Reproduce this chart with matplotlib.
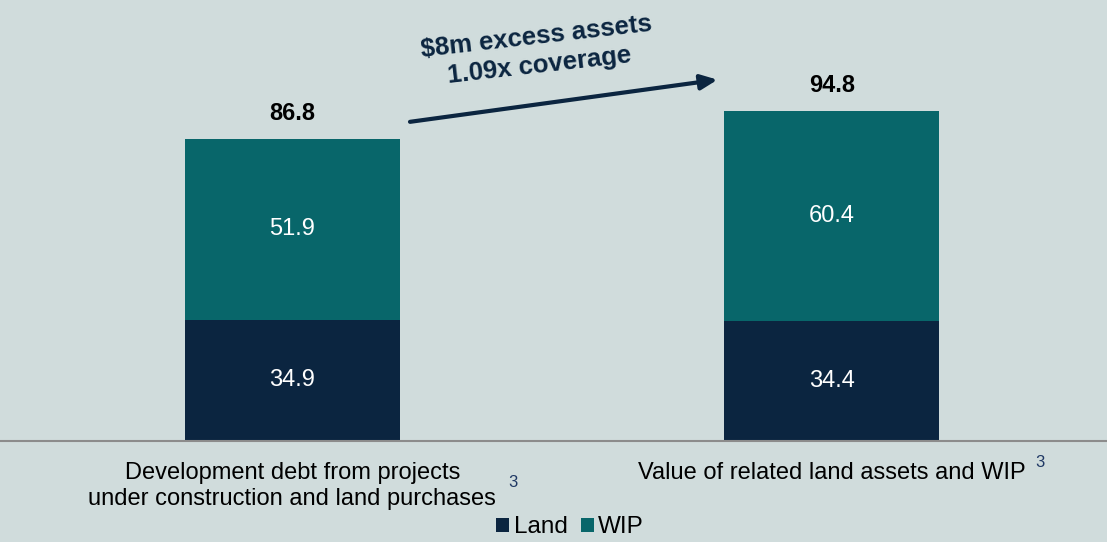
import matplotlib.pyplot as plt

categories = ['Development debt from projects\nunder construction and land purchases',
              'Value of related land assets and WIP']
land = [34.9, 34.4]
wip = [51.9, 60.4]
totals = [86.8, 94.8]
series_names = ['Land', 'WIP']
note = '\\$8m excess assets\n1.09x coverage'

plt.rcParams['font.family'] = ['Liberation Sans', 'DejaVu Sans']

bg = '#D0DCDC'
land_col = '#0B2540'
wip_col = '#08666A'

fig = plt.figure(figsize=(11.07, 5.42), dpi=100, facecolor=bg)
ax = fig.add_axes([0, 0.1863, 1, 0.8137], facecolor=bg)

x = [0, 1]
width = 0.3985
b1 = ax.bar(x, land, width, color=land_col, label=series_names[0])
b2 = ax.bar(x, wip, width, bottom=land, color=wip_col, label=series_names[1])

for i in x:
    ax.text(i, land[i] / 2, f'{land[i]:.1f}', ha='center', va='center',
            color='white', fontsize=17)
    ax.text(i, land[i] + wip[i] / 2, f'{wip[i]:.1f}', ha='center', va='center',
            color='white', fontsize=17)
    ax.text(i, totals[i] + 7.3, f'{totals[i]:.1f}', ha='center', va='center',
            color='black', fontsize=17, fontweight='bold')

ax.set_xlim(-0.542, 1.51)
ax.set_ylim(0, 126.7)
for s in ['top', 'right', 'left']:
    ax.spines[s].set_visible(False)
ax.spines['bottom'].set_color('#8C8C8C')
ax.spines['bottom'].set_linewidth(1.5)
ax.set_yticks([])
ax.set_xticks(x)
ax.set_xticklabels(categories, fontsize=17, color='black', linespacing=1.25)
ax.tick_params(axis='x', length=0, pad=15)

# superscript footnote markers
ax.text(0.409, -12.0, '3', fontsize=12, color='#1F3864', ha='center', va='center', clip_on=False)
ax.text(1.385, -6.2, '3', fontsize=12, color='#1F3864', ha='center', va='center', clip_on=False)

# coverage arrow
ax.annotate('', xy=(0.788, 103.8), xytext=(0.218, 91.7),
            arrowprops=dict(arrowstyle='-|>,head_length=1.0,head_width=0.45',
                            color=land_col, lw=3, shrinkA=0, shrinkB=0))
ax.text(0.455, 112.0, note, ha='center', va='center', rotation=6.5,
        rotation_mode='anchor', fontsize=18.5, fontweight='bold', color=land_col,
        linespacing=1.3)

fig.legend(handles=[b1, b2], labels=series_names, loc='center',
           bbox_to_anchor=(0.515, 0.027), ncol=2, frameon=False, fontsize=17.5,
           handlelength=0.54, handleheight=0.54, handletextpad=0.17, columnspacing=0.55)

fig.savefig('out.png', dpi=100, facecolor=bg)
